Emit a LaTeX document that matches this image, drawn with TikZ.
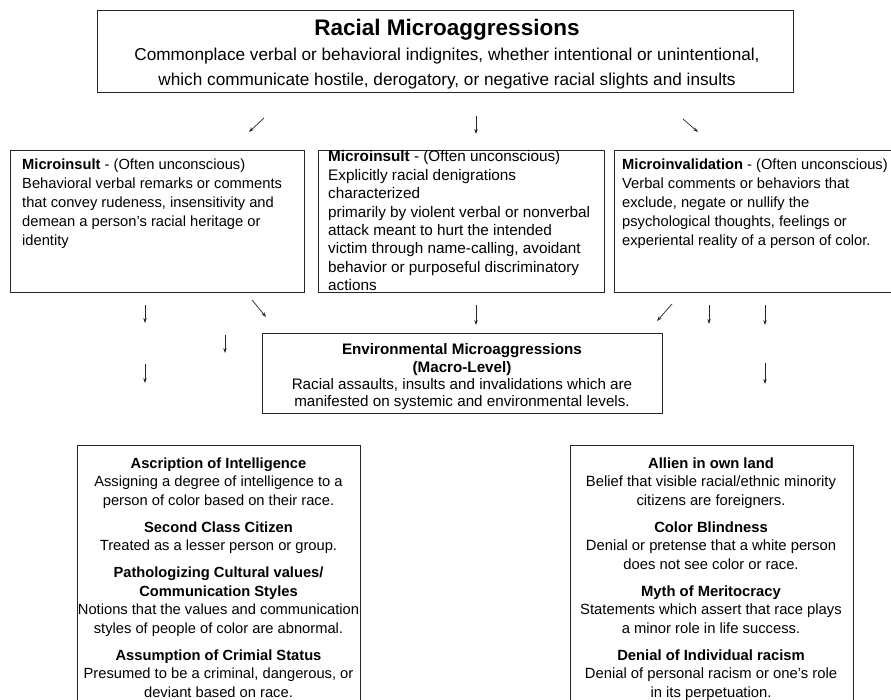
\documentclass[tikz,border=0pt]{standalone}
\usepackage{fontspec}
\setmainfont{Liberation Sans}
\usetikzlibrary{arrows.meta}
\begin{document}
\begin{tikzpicture}[x=1pt,y=-1pt,
  boxline/.style={draw=black!85, line width=0.9pt},
  frame/.style={boxline, inner sep=0pt, outer sep=0pt, anchor=north west},
  arr/.style={draw=black!85, line width=0.7pt, -{Stealth[length=5pt,width=3.4pt]}},
  txtl/.style={inner sep=0pt, anchor=north west, align=left},
  txtc/.style={inner sep=0pt, anchor=north, align=center},
]
\useasboundingbox (0,0) rectangle (891,700);
\clip (0,0) rectangle (891,700);

% ---- top box
\node[frame, minimum width=696pt, minimum height=82pt] (top) at (97,10) {};
\node[inner sep=0pt, font=\fontsize{22.5}{26}\selectfont\bfseries] (toptitle) at (447,30) {Racial Microaggressions};
\node[txtc, font=\fontsize{17.2}{24.5}\selectfont] (toptext) at (447,48) {Commonplace verbal or behavioral indignites, whether intentional or unintentional,\\ which communicate hostile, derogatory, or negative racial slights and insults};

% ---- row 1 arrows
\coordinate (r1as) at (264,118); \coordinate (r1ae) at (249,132);
\coordinate (r1bs) at (476,116); \coordinate (r1be) at (476,134);
\coordinate (r1cs) at (683,119); \coordinate (r1ce) at (698,132);
\draw[arr] (r1as) -- (r1ae);
\draw[arr] (r1bs) -- (r1be);
\draw[arr] (r1cs) -- (r1ce);

% ---- second row boxes
\node[frame, minimum width=294pt, minimum height=142pt] (b1) at (10,150) {};
\node[frame, minimum width=286pt, minimum height=142pt] (b2) at (318,150) {};
\node[frame, minimum width=290pt, minimum height=142pt] (b3) at (614,150) {};

\node[txtl, font=\fontsize{14.7}{19}\selectfont] (t1) at (22,158.7) {%
\textbf{Microinsult} - (Often unconscious)\\
Behavioral verbal remarks or comments\\
that convey rudeness, insensitivity and\\
demean a person’s racial heritage or\\
identity};

\node[txtl, font=\fontsize{15.3}{18.4}\selectfont] (t2) at (328,150.6) {%
\textbf{Microinsult} - (Often unconscious)\\
Explicitly racial denigrations\\
characterized\\
primarily by violent verbal or nonverbal\\
attack meant to hurt the intended\\
victim through name-calling, avoidant\\
behavior or purposeful discriminatory\\
actions};

\node[txtl, font=\fontsize{14.7}{19}\selectfont] (t3) at (622,158.7) {%
\textbf{Microinvalidation} - (Often unconscious)\\
Verbal comments or behaviors that\\
exclude, negate or nullify the\\
psychological thoughts, feelings or\\
experiental reality of a person of color.};

% ---- row 2 arrows
\coordinate (r2as) at (145,305); \coordinate (r2ae) at (145,323);
\coordinate (r2bs) at (252,300); \coordinate (r2be) at (266,317);
\coordinate (r2cs) at (476,305); \coordinate (r2ce) at (476,325);
\coordinate (r2ds) at (672,304); \coordinate (r2de) at (657,321);
\coordinate (r2es) at (709,305); \coordinate (r2ee) at (709,324);
\coordinate (r2fs) at (765,305); \coordinate (r2fe) at (765,325);
\draw[arr] (r2as) -- (r2ae);
\draw[arr] (r2bs) -- (r2be);
\draw[arr] (r2cs) -- (r2ce);
\draw[arr] (r2ds) -- (r2de);
\draw[arr] (r2es) -- (r2ee);
\draw[arr] (r2fs) -- (r2fe);

% ---- row 3 arrows
\coordinate (r3as) at (225,335); \coordinate (r3ae) at (225,353);
\coordinate (r3bs) at (145,364); \coordinate (r3be) at (145,383);
\coordinate (r3cs) at (765,363); \coordinate (r3ce) at (765,384);
\draw[arr] (r3as) -- (r3ae);
\draw[arr] (r3bs) -- (r3be);
\draw[arr] (r3cs) -- (r3ce);

% ---- environmental box
\node[frame, minimum width=400pt, minimum height=80pt] (env) at (262,333) {};
\node[txtc, font=\fontsize{15.2}{17.3}\selectfont] (envt) at (462,343.6) {%
\textbf{Environmental Microaggressions}\\
\textbf{(Macro-Level)}\\
Racial assaults, insults and invalidations which are\\
manifested on systemic and environmental levels.};

% ---- bottom boxes
\node[frame, minimum width=283pt, minimum height=270pt] (bl) at (77,445) {};
\node[frame, minimum width=283pt, minimum height=270pt] (br) at (570,445) {};

\node[txtc, font=\fontsize{14.7}{18.4}\selectfont] (blt) at (218.5,457.5) {%
\textbf{Ascription of Intelligence}\\
Assigning a degree of intelligence to a\\
person of color based on their race.\\[8.8pt]
\textbf{Second Class Citizen}\\
Treated as a lesser person or group.\\[8.8pt]
\textbf{Pathologizing Cultural values/}\\
\textbf{Communication Styles}\\
Notions that the values and communication\\
styles of people of color are abnormal.\\[8.8pt]
\textbf{Assumption of Crimial Status}\\
Presumed to be a criminal, dangerous, or\\
deviant based on race.};

\node[txtc, font=\fontsize{14.8}{18.4}\selectfont] (brt) at (711,457.5) {%
\textbf{Allien in own land}\\
Belief that visible racial/ethnic minority\\
citizens are foreigners.\\[8.8pt]
\textbf{Color Blindness}\\
Denial or pretense that a white person\\
does not see color or race.\\[8.8pt]
\textbf{Myth of Meritocracy}\\
Statements which assert that race plays\\
a minor role in life success.\\[8.8pt]
\textbf{Denial of Individual racism}\\
Denial of personal racism or one’s role\\
in its perpetuation.};
\end{tikzpicture}
\end{document}
